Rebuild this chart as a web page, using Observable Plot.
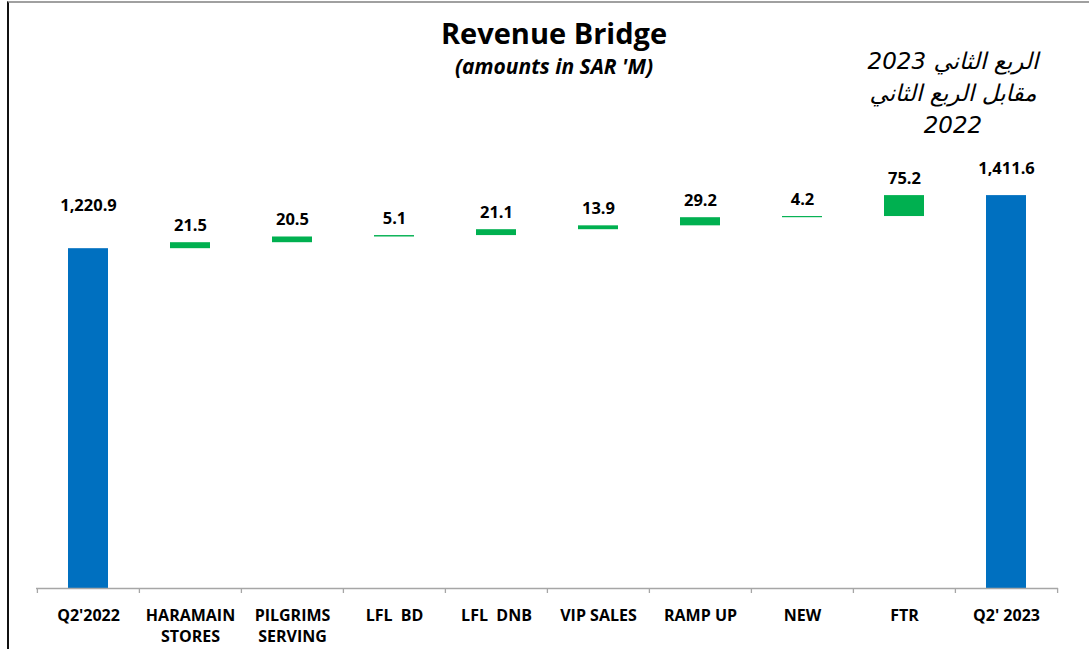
<!DOCTYPE html>
<html>
<head>
<meta charset="utf-8">
<script src="https://cdn.jsdelivr.net/npm/d3@7"></script>
<script src="https://cdn.jsdelivr.net/npm/@observablehq/plot@0.6"></script>
<style>
  html, body { margin: 0; padding: 0; background: #fff; }
  #wrap { position: relative; width: 1089px; height: 649px; overflow: hidden; background: #fff; }
  #wrap svg { position: absolute; left: 0; top: 0; }
  .frame { position: absolute; left: 7px; top: 1px; right: 0; bottom: 0; border-left: 2px solid #111; border-top: 2px solid #a0a0a0; pointer-events: none; }
  .title { position: absolute; left: 304px; width: 500px; text-align: center; font-family: "Open Sans", sans-serif; color: #000; }
  #t1 { top: 16px; font-size: 29px; line-height: 34px; font-weight: bold; }
  #t2 { top: 54px; font-size: 21px; line-height: 24px; font-weight: bold; font-style: italic; }
  #ar { position: absolute; left: 843px; width: 220px; top: 45px; text-align: center; font-family: "DejaVu Sans", sans-serif; font-style: italic; font-size: 23px; line-height: 32px; color: #000; }
</style>
</head>
<body>
<div id="wrap">
  <div class="frame"></div>
  <div class="title" id="t1">Revenue Bridge</div>
  <div class="title" id="t2">(amounts in SAR 'M)</div>
  <div id="ar" dir="rtl" lang="ar">الربع الثاني 2023<br>مقابل الربع الثاني<br>2022</div>
</div>
<script>
// ---- data ----
const categories = ["Q2'2022", "HARAMAIN\nSTORES", "PILGRIMS\nSERVING", "LFL\u00a0\u00a0BD", "LFL\u00a0\u00a0DNB", "VIP SALES", "RAMP UP", "NEW", "FTR", "Q2' 2023"];
const values = [1220.9, 21.5, 20.5, 5.1, 21.1, 13.9, 29.2, 4.2, 75.2, 1411.6];
const kinds = ["total", "delta", "delta", "delta", "delta", "delta", "delta", "delta", "delta", "total"];

// ---- build waterfall rows ----
let running = 0;
const rows = categories.map((cat, i) => {
  let start, end;
  if (kinds[i] === "total") { start = 0; end = values[i]; running = values[i]; }
  else { start = running; end = running + values[i]; running = end; }
  return {cat, value: values[i], kind: kinds[i], start, end};
});
const totals = rows.filter(d => d.kind === "total");
const deltas = rows.filter(d => d.kind === "delta");

const W = 1089, H = 649, mL = 36, mR = 31, mT = 87, mB = 61;
const yMax = 1800;
const step = (W - mL - mR) / categories.length;
const pxPerUnit = (H - mT - mB) / yMax;
const fmt = d3.format(",.1f");
const BLUE = "#0070C0", GREEN = "#00B050", AXIS = "#a6a6a6";

const chart = Plot.plot({
  width: W, height: H,
  marginLeft: mL, marginRight: mR, marginTop: mT, marginBottom: mB,
  style: {fontFamily: "'Open Sans', sans-serif", fontWeight: "bold", color: "#000", background: "transparent", overflow: "visible"},
  x: {domain: categories, paddingInner: 0.61, paddingOuter: 0.305, axis: null},
  y: {domain: [0, yMax], axis: null},
  marks: [
    Plot.barY(totals, {x: "cat", y1: "start", y2: "end", fill: BLUE}),
    Plot.barY(deltas, {x: "cat", y1: "start", y2: "end", fill: GREEN}),
    Plot.ruleY([0], {stroke: AXIS, strokeWidth: 1.3}),
    Plot.ruleX(categories, {x: d => d, y1: () => 0, y2: () => -5 / pxPerUnit, dx: -step / 2, stroke: AXIS, strokeWidth: 1.3}),
    Plot.ruleX(categories.slice(-1), {x: d => d, y1: () => 0, y2: () => -5 / pxPerUnit, dx: step / 2, stroke: AXIS, strokeWidth: 1.3}),
    Plot.axisX({tickSize: 0, tickPadding: 17, fontSize: 16, fontWeight: "bold", lineHeight: 1.32, fill: "#000", label: null}),
    Plot.text(deltas, {x: "cat", y: "end", text: d => fmt(d.value), dy: -17, fontSize: 16.5, fontWeight: "bold", fill: "#000"}),
    Plot.text(totals.slice(0, 1), {x: "cat", y: "end", text: d => fmt(d.value), dy: -43, fontSize: 16.5, fontWeight: "bold", fill: "#000"}),
    Plot.text(totals.slice(1), {x: "cat", y: "end", text: d => fmt(d.value), dy: -27, fontSize: 16.5, fontWeight: "bold", fill: "#000"})
  ]
});
document.getElementById("wrap").prepend(chart);
</script>
</body>
</html>
